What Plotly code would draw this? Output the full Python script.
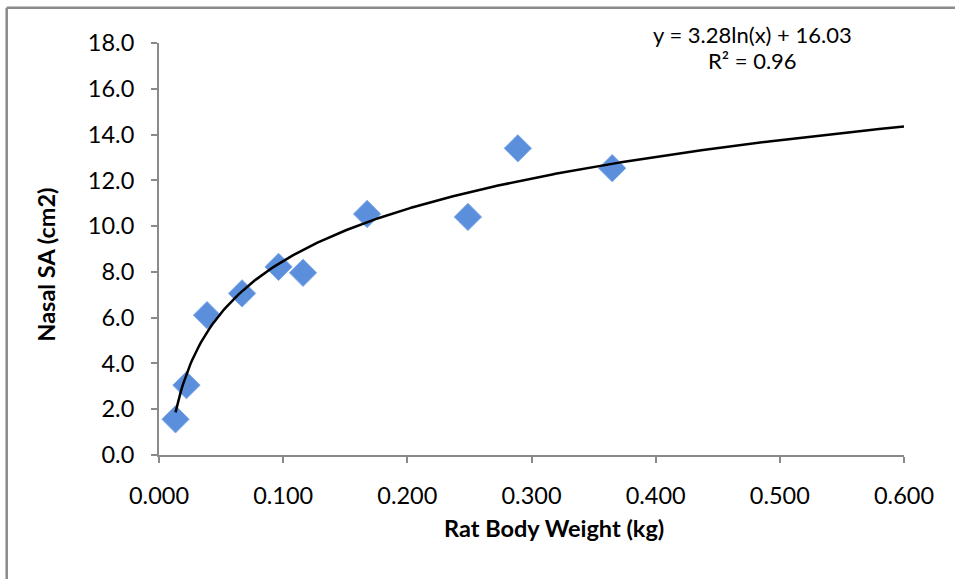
import numpy as np
import plotly.graph_objects as go

# Data
body_weight_kg = [0.0133, 0.0221, 0.0387, 0.0669, 0.0963, 0.116, 0.1676, 0.2488, 0.289, 0.365]
nasal_sa_cm2 = [1.56, 3.05, 6.11, 7.06, 8.22, 7.96, 10.53, 10.40, 13.40, 12.53]

# Logarithmic trendline coefficients (shown on the chart)
trend_a = 3.28
trend_b = 16.03
trend_x_max = 0.6

x_ticks = [0.0, 0.1, 0.2, 0.3, 0.4, 0.5, 0.6]
y_ticks = [0, 2, 4, 6, 8, 10, 12, 14, 16, 18]

FONT = "Lato"
AXIS_COLOR = "#8a8a8a"

tx = np.linspace(min(body_weight_kg), trend_x_max, 400)
ty = trend_a * np.log(tx) + trend_b

fig = go.Figure()
fig.add_trace(go.Scatter(
    x=body_weight_kg, y=nasal_sa_cm2, mode="markers",
    marker=dict(symbol="diamond", size=21, color="#5b8fdc",
                line=dict(color="#7eaaea", width=1)),
    showlegend=False, hoverinfo="x+y"))
fig.add_trace(go.Scatter(
    x=tx, y=ty, mode="lines", line=dict(color="black", width=2.5),
    showlegend=False, hoverinfo="skip"))

ml, mr, mt, mb = 158.5, 50.5, 43.3, 124.3
pw = 955 - ml - mr
ph = 579 - mt - mb

bx0 = (6 - ml) / pw
by1 = (579 - mb - 8) / ph

fig.update_layout(
    width=955, height=579,
    margin=dict(l=ml, r=mr, t=mt, b=mb, autoexpand=False),
    paper_bgcolor="white", plot_bgcolor="white",
    font=dict(family=FONT, size=21, color="black"),
    xaxis=dict(range=[0, 0.6], tickvals=x_ticks, tickformat=".3f",
               showgrid=False, zeroline=False, showline=True,
               linecolor=AXIS_COLOR, linewidth=2, ticks="outside",
               tickcolor=AXIS_COLOR, tickwidth=2, ticklen=6,
               ticklabelstandoff=13,
               tickfont=dict(family=FONT, size=23.5)),
    yaxis=dict(range=[0, 18], tickvals=y_ticks, tickformat=".1f",
               showgrid=False, zeroline=False, showline=True,
               linecolor=AXIS_COLOR, linewidth=2, ticks="outside",
               tickcolor=AXIS_COLOR, tickwidth=2, ticklen=6,
               ticklabelstandoff=12,
               tickfont=dict(family=FONT, size=23.5)),
    shapes=[
        dict(type="line", xref="paper", yref="paper",
             x0=bx0, x1=1.2, y0=by1, y1=by1,
             line=dict(color=AXIS_COLOR, width=2.5)),
        dict(type="line", xref="paper", yref="paper",
             x0=bx0, x1=bx0, y0=-0.5, y1=by1,
             line=dict(color=AXIS_COLOR, width=2.5)),
    ],
    annotations=[
        dict(text="<b>Rat Body Weight (kg)</b>", xref="paper", yref="paper",
             x=(554 - ml) / pw, y=-(528 - (579 - mb)) / ph, showarrow=False,
             xanchor="center", yanchor="middle", font=dict(size=23.5)),
        dict(text="<b>Nasal SA (cm2)</b>", xref="paper", yref="paper",
             x=(45 - ml) / pw, y=((579 - mb) - 265) / ph, showarrow=False,
             textangle=-90, xanchor="center", yanchor="middle", font=dict(size=23.5)),
        dict(text="y = 3.28ln(x) + 16.03", xref="paper", yref="paper",
             x=(753 - ml) / pw, y=((579 - mb) - 35) / ph, showarrow=False,
             xanchor="center", yanchor="middle", font=dict(size=22)),
        dict(text="R² = 0.96", xref="paper", yref="paper",
             x=(753 - ml) / pw, y=((579 - mb) - 61) / ph, showarrow=False,
             xanchor="center", yanchor="middle", font=dict(size=22)),
    ],
)

fig.write_html(
    "out.html",
    config={"displayModeBar": False},
    post_script="document.body.style.margin='0';document.body.style.overflow='hidden';",
)
